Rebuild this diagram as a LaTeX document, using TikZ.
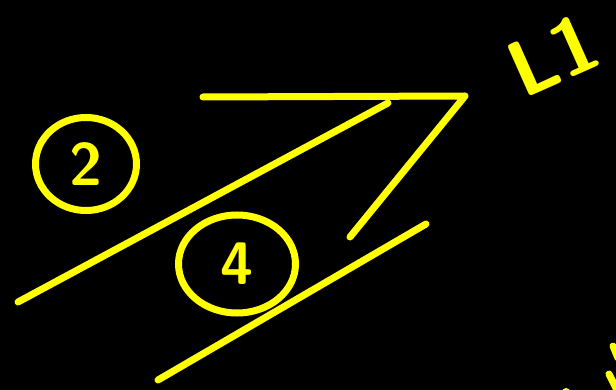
\documentclass[tikz,border=0pt]{standalone}
\usetikzlibrary{positioning,shapes.geometric}
\definecolor{marker}{HTML}{FFFF00}
\definecolor{board}{HTML}{000000}

\begin{document}
\begin{tikzpicture}[
  x=1pt,y=-1pt,
  stroke/.style={draw=marker,line width=7pt,line cap=round,line join=round},
  badge/.style={ellipse,draw=marker,line width=7pt,text=marker,inner sep=0pt,
                font=\sffamily\bfseries\fontsize{60}{60}\selectfont},
  scrawl/.style={text=marker,inner sep=0pt,
                 font=\sffamily\bfseries\fontsize{80}{80}\selectfont},
]

% Board
\fill[board] (0,0) rectangle (616,390);
\useasboundingbox (0,0) rectangle (616,390);

% Corner points of the strokes
\coordinate (tl) at (203,97);
\coordinate (tip) at (465,96);
\coordinate (dr) at (350,237);
\coordinate (ls) at (18,302);
\coordinate (le) at (388,103);
\coordinate (bs) at (158,380);
\coordinate (be) at (426,224);

% Strokes
\draw[stroke] (tl) -- (tip) -- (dr);
\draw[stroke] (ls) -- (le);
\draw[stroke] (bs) -- (be);

% Circled numbers
\node[badge,minimum width=101pt,minimum height=93pt] (two) at (86,164) {2};
\node[badge,minimum width=117pt,minimum height=98pt] (four) at (237,264) {4};

% Label top right
\node[scrawl,rotate=24] (lone) at (553,55) {L1};

% Cut-off marks at the edge
\coordinate (ea) at (613,346);
\coordinate (eb) at (618,358);
\coordinate (ec) at (609,374);
\coordinate (ed) at (618,392);
\draw[stroke] (ea) -- (eb);
\draw[stroke] (ec) -- (ed);
\fill[marker] (566,392) circle (4pt);

\end{tikzpicture}
\end{document}
